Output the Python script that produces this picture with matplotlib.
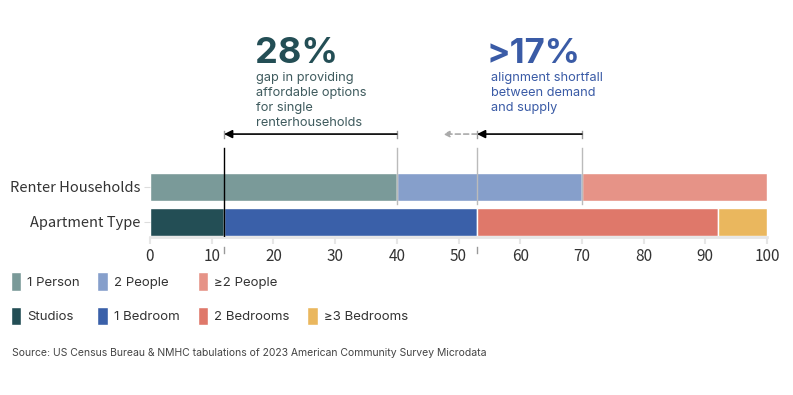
import matplotlib.pyplot as plt
from matplotlib.patches import Patch

# data
categories = ["Apartment Type", "Renter Households"]
household_labels = ["1 Person", "2 People", "≥2 People"]
household_values = [40, 30, 30]
apartment_labels = ["Studios", "1 Bedroom", "2 Bedrooms", "≥3 Bedrooms"]
apartment_values = [12, 41, 39, 8]
gap_single = (40, 12)        # 28% gap arrow
gap_align = (70, 53)         # >17% arrow
gap_align_ext = (53, 47.5)   # dashed continuation
x_ticks = list(range(0, 101, 10))

household_colors = ["#7A9A99", "#869FCB", "#E69387"]
apartment_colors = ["#234E55", "#3A60A9", "#DF786A", "#EAB75E"]
dark = "#234E55"
blue = "#3A5BA6"

plt.rcParams["font.family"] = ["Noto Sans CJK SC", "DejaVu Sans"]

fig = plt.figure(figsize=(7.93, 3.95), dpi=100)
ax = fig.add_axes([150 / 793, 158 / 395, 617 / 793, 237 / 395])

# stacked bars
left = 0
for val, col, lab in zip(household_values, household_colors, household_labels):
    ax.barh(1, val, left=left, height=0.8, color=col, edgecolor="white", linewidth=1, label=lab)
    left += val
left = 0
for val, col, lab in zip(apartment_values, apartment_colors, apartment_labels):
    ax.barh(0, val, left=left, height=0.8, color=col, edgecolor="white", linewidth=1, label=lab)
    left += val

ax.set_xlim(0, 100)
ax.set_ylim(-0.43, 6.34)
ax.set_xticks(x_ticks)
ax.set_yticks([0, 1])
ax.set_yticklabels(categories)
ax.tick_params(axis="y", length=4, color="#dddddd", labelsize=10.5, labelcolor="#333333", pad=3)
ax.tick_params(axis="x", length=5, color="#e6e6e6", width=1.5, labelsize=11, labelcolor="#333333", pad=3)
for s in ["top", "right", "left"]:
    ax.spines[s].set_visible(False)
ax.spines["bottom"].set_color("#e6e6e6")
ax.spines["bottom"].set_linewidth(2)

# guide lines
arrow_y = 2.51
ax.plot([12, 12], [2.11, -0.43], color="black", lw=1, zorder=3)
for xv in [40, 53, 70]:
    ax.plot([xv, xv], [2.11, 0.5], color="#bbbbbb", lw=1, zorder=3)
for xv in [12, 53]:
    ax.plot([xv, xv], [-0.72, -0.88], color="#999999", lw=1, clip_on=False)

# arrows
ax.annotate("", xy=(gap_single[1], arrow_y), xytext=(gap_single[0], arrow_y),
            arrowprops=dict(arrowstyle="-|>", color="black", lw=1.2, mutation_scale=12,
                            shrinkA=0, shrinkB=0))
ax.annotate("", xy=(gap_align[1], arrow_y), xytext=(gap_align[0], arrow_y),
            arrowprops=dict(arrowstyle="-|>", color="black", lw=1.2, mutation_scale=12,
                            shrinkA=0, shrinkB=0))
ax.annotate("", xy=(gap_align_ext[1], arrow_y), xytext=(gap_align_ext[0], arrow_y),
            arrowprops=dict(arrowstyle="-|>", color="#aaaaaa", lw=1.2, ls=(0, (3, 2)),
                            mutation_scale=9, shrinkA=0, shrinkB=0))
for xv in [12, 40, 53, 70]:
    ax.plot([xv, xv], [arrow_y - 0.1, arrow_y + 0.1], color="#999999", lw=1)

# callout texts
ax.text(17, 4.55, "28%", fontsize=26, fontweight="bold", color=dark,
        family=["Inter", "DejaVu Sans"], va="baseline")
ax.text(17.1, 4.27, "gap in providing\naffordable options\nfor single\nrenterhouseholds",
        fontsize=9.2, color="#3f5b5e", family=["Inter", "DejaVu Sans"], va="top", linespacing=1.32)
ax.text(54.5, 4.55, ">17%", fontsize=25, fontweight="bold", color=blue,
        family=["Inter", "DejaVu Sans"], va="baseline")
ax.text(55.2, 4.27, "alignment shortfall\nbetween demand\nand supply",
        fontsize=9.2, color=blue, family=["Inter", "DejaVu Sans"], va="top", linespacing=1.32)

# legend
handles, labels = ax.get_legend_handles_labels()
blank = Patch(facecolor="none", edgecolor="none", label=" ")
order = [handles[0], handles[3], handles[1], handles[4], handles[2], handles[5], blank, handles[6]]
leg = fig.legend(handles=order, labels=[h.get_label() for h in order], ncol=4,
                 loc="upper left", bbox_to_anchor=(0.0, 0.338), frameon=False,
                 borderpad=0.3, handlelength=0.8, handleheight=1.8, handletextpad=0.45,
                 columnspacing=1.35, labelspacing=1.2,
                 prop={"family": ["Inter", "DejaVu Sans"], "size": 9.5})
for t in leg.get_texts():
    t.set_color("#333333")

fig.text(12 / 793, 1 - 353 / 395, "Source: US Census Bureau & NMHC tabulations of 2023 American Community Survey Microdata",
         fontsize=7.5, color="#444444", family=["Inter", "DejaVu Sans"], va="center")

fig.savefig("out.png", dpi=100)
